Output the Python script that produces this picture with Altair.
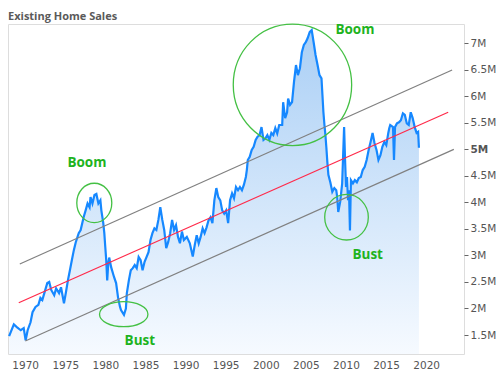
import altair as alt
import pandas as pd

# ---- Existing home sales (millions, SAAR) ----
years = [1968.0, 1968.59, 1968.96, 1969.45, 1969.82, 1970.06, 1970.31, 1970.67, 1970.92, 1971.29,
         1971.65, 1971.90, 1972.14, 1972.39, 1972.76, 1973.00, 1973.25, 1973.62, 1973.86, 1974.23,
         1974.47, 1974.84, 1975.09, 1975.33, 1975.58, 1975.82, 1976.07, 1976.31, 1976.68, 1976.92,
         1977.29, 1977.54, 1977.78, 1978.03, 1978.15, 1978.39, 1978.64, 1978.88, 1979.13, 1979.38,
         1979.50, 1979.74, 1979.87, 1979.99, 1980.11, 1980.23, 1980.36, 1980.48, 1980.72, 1981.09,
         1981.34, 1981.58, 1981.83, 1981.95, 1982.32, 1982.56, 1982.68, 1982.93, 1983.17, 1983.42,
         1983.66, 1983.91, 1984.15, 1984.40, 1984.64, 1984.89, 1985.13, 1985.38, 1985.63, 1985.87,
         1986.12, 1986.36, 1986.61, 1986.85, 1987.10, 1987.34, 1987.59, 1987.83, 1988.08, 1988.32,
         1988.57, 1988.81, 1989.06, 1989.30, 1989.55, 1989.79, 1990.16, 1990.53, 1990.90, 1991.15,
         1991.39, 1991.64, 1991.88, 1992.13, 1992.37, 1992.62, 1992.86, 1993.11, 1993.35, 1993.59,
         1993.84, 1994.08, 1994.33, 1994.57, 1994.82, 1995.06, 1995.31, 1995.55, 1995.80, 1996.04,
         1996.29, 1996.54, 1996.78, 1997.03, 1997.27, 1997.52, 1997.64, 1997.76, 1998.00, 1998.25,
         1998.49, 1998.74, 1998.98, 1999.23, 1999.47, 1999.72, 1999.96, 2000.20, 2000.45, 2000.70,
         2000.94, 2001.19, 2001.43, 2001.68, 2002.05, 2002.17, 2002.42, 2002.66, 2002.79, 2003.03,
         2003.28, 2003.52, 2003.77, 2004.01, 2004.26, 2004.50, 2004.75, 2004.99, 2005.23, 2005.48,
         2005.73, 2005.97, 2006.21, 2006.46, 2006.70, 2006.95, 2007.07, 2007.19, 2007.32, 2007.44,
         2007.56, 2007.68, 2007.81, 2008.05, 2008.30, 2008.55, 2008.79, 2008.91, 2009.04, 2009.28,
         2009.53, 2009.77, 2009.89, 2010.01, 2010.13, 2010.26, 2010.38, 2010.50, 2010.62, 2010.87,
         2011.11, 2011.36, 2011.60, 2011.85, 2012.09, 2012.34, 2012.58, 2012.83, 2013.07, 2013.32,
         2013.56, 2013.81, 2014.05, 2014.30, 2014.54, 2014.79, 2015.03, 2015.28, 2015.40, 2015.52,
         2015.87, 2015.99, 2016.12, 2016.36, 2016.61, 2016.85, 2017.10, 2017.34, 2017.59, 2017.83,
         2018.08, 2018.32, 2018.57, 2018.81, 2019.00, 2019.10]
sales = [1.48, 1.70, 1.65, 1.59, 1.63, 1.40, 1.59, 1.74, 1.93, 2.03,
         2.07, 2.20, 2.16, 2.29, 2.48, 2.50, 2.35, 2.25, 2.38, 2.29,
         2.40, 2.10, 2.31, 2.53, 2.72, 2.91, 3.10, 3.25, 3.42, 3.48,
         3.72, 3.85, 3.98, 3.91, 4.10, 3.98, 4.14, 4.16, 3.98, 4.04,
         3.85, 3.61, 3.42, 3.16, 2.91, 2.53, 2.85, 2.96, 2.78, 2.59,
         2.48, 2.21, 2.03, 1.97, 1.88, 2.00, 2.29, 2.53, 2.72, 2.76,
         2.82, 2.76, 2.97, 2.91, 2.72, 2.88, 2.97, 3.06, 3.29, 3.42,
         3.51, 3.48, 3.67, 3.91, 3.67, 3.48, 3.14, 3.25, 3.42, 3.67,
         3.48, 3.57, 3.35, 3.23, 3.45, 3.29, 3.35, 3.23, 2.98, 3.20,
         3.38, 3.23, 3.35, 3.51, 3.42, 3.53, 3.66, 3.72, 3.61, 4.04,
         4.27, 4.10, 4.04, 3.85, 3.79, 3.85, 3.61, 4.04, 4.17, 4.08,
         4.29, 4.23, 4.29, 4.23, 4.33, 4.48, 4.61, 4.80, 4.86, 4.99,
         5.05, 5.18, 5.24, 5.27, 5.42, 5.18, 5.21, 5.27, 5.18, 5.31,
         5.27, 5.40, 5.30, 5.46, 5.46, 5.89, 5.59, 5.70, 5.96, 5.84,
         5.89, 6.27, 6.59, 6.40, 6.53, 6.83, 6.97, 7.02, 7.10, 7.21,
         7.25, 7.02, 6.78, 6.59, 6.40, 6.34, 6.02, 5.70, 5.46, 5.27,
         5.03, 4.76, 4.52, 4.38, 4.20, 4.27, 4.23, 4.10, 3.82, 4.01,
         4.36, 5.42, 4.80, 4.29, 4.48, 4.04, 4.23, 3.47, 4.42, 4.36,
         4.42, 4.38, 4.46, 4.48, 4.61, 4.67, 4.80, 4.99, 5.14, 5.31,
         5.12, 4.99, 4.80, 4.89, 5.05, 5.14, 5.08, 5.31, 5.40, 5.46,
         5.42, 4.80, 5.42, 5.49, 5.51, 5.55, 5.68, 5.65, 5.49, 5.46,
         5.70, 5.59, 5.42, 5.31, 5.33, 5.03]

# ---- trend channel ----
mid_year = [1969.20, 2022.75]
mid_val = [2.108, 5.70]
upper_year = [1969.33, 2023.24]
upper_val = [2.838, 6.497]
lower_year = [1970.02, 2023.45]
lower_val = [1.386, 5.00]

# ---- annotations ----
circ_year = [1978.62, 1982.29, 2003.33, 2010.07]
circ_val = [3.99, 1.892, 6.217, 3.721]
circ_rx = [17.5, 24.2, 59.2, 21.8]
circ_ry = [19.7, 12.5, 60.8, 22.8]

label_text = ["Boom", "Bust", "Boom", "Bust"]
label_year = [1977.70, 1984.30, 2011.12, 2012.71]
label_val = [4.737, 1.386, 7.26, 3.008]

title_text = ["Existing Home Sales"]

y_ticks = [1.5, 2, 2.5, 3, 3.5, 4, 4.5, 5, 5.5, 6, 6.5, 7]
x_ticks = [1970, 1975, 1980, 1985, 1990, 1995, 2000, 2005, 2010, 2015, 2020]

Y_MIN, Y_MAX = 1.142, 7.364
X_MIN, X_MAX = 1967.86, 2024.72

df = pd.DataFrame({"year": years, "sales": sales})
trend_df = pd.DataFrame({
    "year": mid_year + upper_year + lower_year,
    "sales": mid_val + upper_val + lower_val,
    "line": ["mid"] * 2 + ["upper"] * 2 + ["lower"] * 2,
})


def ellipse_path(rx, ry):
    r = max(rx, ry)
    a, b = rx / r, ry / r
    k = 0.5523
    return (f"M {a} 0 C {a} {k*b} {k*a} {b} 0 {b} C {-k*a} {b} {-a} {k*b} {-a} 0 "
            f"C {-a} {-k*b} {-k*a} {-b} 0 {-b} C {k*a} {-b} {a} {-k*b} {a} 0 Z")


circ_df = pd.DataFrame({
    "year": circ_year,
    "sales": circ_val,
    "path": [ellipse_path(rx, ry) for rx, ry in zip(circ_rx, circ_ry)],
    "sz": [(2 * max(rx, ry)) ** 2 for rx, ry in zip(circ_rx, circ_ry)],
})
label_df = pd.DataFrame({"year": label_year, "sales": label_val, "text": label_text})
title_df = pd.DataFrame({"t": title_text})

xscale = alt.Scale(domain=[X_MIN, X_MAX], nice=False, zero=False)
yscale = alt.Scale(domain=[Y_MIN, Y_MAX], nice=False, zero=False)

x_axis = alt.Axis(values=x_ticks, format="d", title=None, ticks=False, domain=False,
                  grid=False, labelPadding=6, labelFont="DejaVu Sans", labelFontSize=10.5,
                  labelColor="#555555", labelOverlap=False)
y_axis = alt.Axis(values=y_ticks, orient="right", title=None, domain=False, grid=False,
                  tickSize=4, tickColor="#666666", labelPadding=2, labelOverlap=False,
                  labelExpr="datum.value + 'M'", labelFont="DejaVu Sans", labelFontSize=10.5,
                  labelColor="#555555",
                  labelFontWeight={"condition": {"test": "datum.value == 5", "value": "bold"},
                                   "value": "normal"})

X = alt.X("year:Q", scale=xscale, axis=x_axis, title=None)
Y = alt.Y("sales:Q", scale=yscale, axis=y_axis, title=None)

area = alt.Chart(df).mark_area(
    color=alt.Gradient(
        gradient="linear",
        stops=[alt.GradientStop(color="#aacff5", offset=0),
               alt.GradientStop(color="#f6faff", offset=1)],
        x1=1, x2=1, y1=0, y2=1,
    ),
    line=False,
).encode(x=X, y=Y, y2=alt.datum(Y_MIN))

line = alt.Chart(df).mark_line(color="#1688ff", strokeWidth=2.2).encode(x=X, y=Y)

trend = alt.Chart(trend_df).mark_line(strokeWidth=1.2).encode(
    x=X, y=Y,
    detail="line:N",
    color=alt.Color("line:N", scale=alt.Scale(domain=["mid", "upper", "lower"],
                                              range=["#ff2a4a", "#808080", "#808080"]),
                    legend=None),
)

circles = alt.Chart(circ_df).mark_point(filled=False, opacity=1, color="#44c044",
                                        strokeWidth=1.3).encode(
    x=X, y=Y,
    shape=alt.Shape("path:N", scale=None),
    size=alt.Size("sz:Q", scale=None),
)

labels = alt.Chart(label_df).mark_text(font="Open Sans", fontWeight="bold", fontSize=13.5,
                                       color="#1eb31e", align="center",
                                       baseline="middle").encode(
    x=X, y=Y, text="text:N",
)

title = alt.Chart(title_df).mark_text(font="Open Sans", fontWeight="bold", fontSize=11,
                                      color="#5a5a5a", align="left",
                                      baseline="alphabetic").encode(
    x=alt.value(0),
    y=alt.value(-4),
    text="t:N",
)

chart = alt.layer(area, line, trend, circles, labels, title).properties(
    width=456,
    height=330,
    autosize=alt.AutoSizeParams(type="none"),
    padding={"left": 0, "top": 16, "right": 32, "bottom": 18},
).configure_view(
    stroke="#666666", strokeWidth=1.4,
).configure_axis(
    labelOverlap=False,
).configure(background="white")

chart.save("out.html", embed_options={"renderer": "svg", "actions": False})
